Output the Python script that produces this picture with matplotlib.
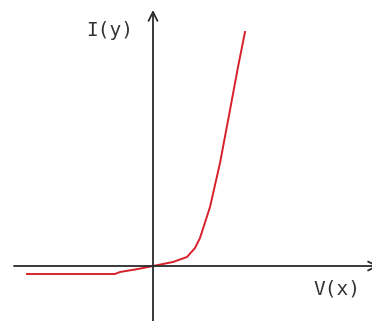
import matplotlib
matplotlib.use('Agg')
import matplotlib.pyplot as plt

# diode characteristic, forward and reverse bias
volts = [-12.6, -3.8, -3.3, -1.5, 0.0, 2.0, 3.4, 4.2, 4.7, 5.7, 6.7, 7.7, 8.5, 9.2]
amps = [-0.8, -0.8, -0.6, -0.3, 0.0, 0.4, 0.9, 1.8, 2.8, 5.9, 10.3, 15.6, 19.9, 23.4]

fig = plt.figure(figsize=(3.72, 3.21), dpi=100)
ax = fig.add_axes([0, 0, 1, 1])
ax.set_xlim(-15.3, 21.9)
ax.set_ylim(-5.5, 26.6)
ax.axis('off')

axcol = '#2a2a2a'
arrow = dict(arrowstyle='->', lw=1.3, color=axcol, mutation_scale=16, shrinkA=0, shrinkB=0)
ax.annotate('', xy=(0, 25.6), xytext=(0, -5.6), arrowprops=arrow, annotation_clip=False)
ax.annotate('', xy=(22.6, 0), xytext=(-13.9, 0), arrowprops=arrow, annotation_clip=False)

ax.plot(volts, amps, color='#d8202a', lw=1.4)

ax.text(-4.3, 23.6, 'I(y)', family='DejaVu Sans Mono', fontsize=14, color='#333333',
        ha='center', va='center')
ax.text(18.4, -2.3, 'V(x)', family='DejaVu Sans Mono', fontsize=14, color='#333333',
        ha='center', va='center')

fig.savefig('out.png', dpi=100)
